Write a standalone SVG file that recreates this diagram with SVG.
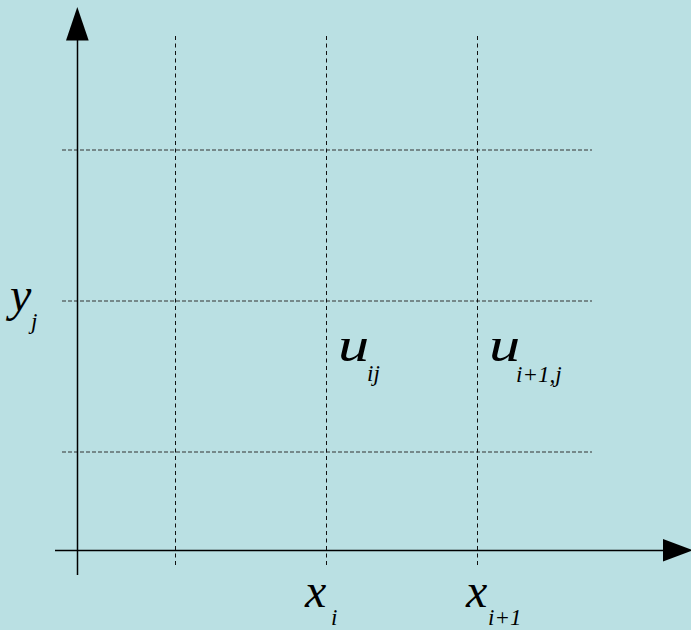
<svg xmlns="http://www.w3.org/2000/svg" width="691" height="630" viewBox="0 0 691 630">
  <style>
    .axis { stroke: #000; stroke-width: 1.5; fill: none; }
    .head { fill: #000; stroke: none; }
    .gridh { stroke: #333; stroke-width: 1; stroke-dasharray: 4 2; fill: none; }
    .gridv { stroke: #111; stroke-width: 1; stroke-dasharray: 4 3.5; fill: none; }
    text { font-family: 'Liberation Serif', 'Times New Roman', serif; font-style: italic; fill: #000; }
    .big { font-size: 48px; }
    .sub { font-size: 23px; }
  </style>
  <rect x="0" y="0" width="691" height="630" fill="#bae0e3"/>
  <g id="grid">
    <line class="gridh" x1="62" y1="150" x2="592" y2="150"/>
    <line class="gridh" x1="62" y1="301" x2="592" y2="301"/>
    <line class="gridh" x1="62" y1="452" x2="592" y2="452"/>
    <line class="gridv" x1="175.5" y1="36" x2="175.5" y2="565"/>
    <line class="gridv" x1="326.5" y1="36" x2="326.5" y2="565"/>
    <line class="gridv" x1="477.5" y1="36" x2="477.5" y2="565"/>
  </g>
  <g id="axes">
    <line class="axis" x1="77.5" y1="38" x2="77.5" y2="575"/>
    <polygon class="head" points="77.3,7 66,40.5 88.7,40.5"/>
    <line class="axis" x1="55" y1="550.5" x2="665" y2="550.5"/>
    <polygon class="head" points="663,539 663,561.5 693,550.3"/>
  </g>
  <g id="label-y">
    <text class="big" x="10" y="311">y</text>
    <text class="sub" x="31" y="329">j</text>
  </g>
  <g id="label-uij">
    <text class="big" transform="translate(338,361) scale(1.3,1)">u</text>
    <text class="sub" x="367" y="381">ij</text>
  </g>
  <g id="label-ui1j">
    <text class="big" transform="translate(489,361) scale(1.3,1)">u</text>
    <text class="sub" x="516" y="382">i+1,j</text>
  </g>
  <g id="label-xi">
    <text class="big" x="305" y="607">x</text>
    <text class="sub" x="331" y="625">i</text>
  </g>
  <g id="label-xi1">
    <text class="big" x="466" y="607">x</text>
    <text class="sub" x="488" y="625">i+1</text>
  </g>
</svg>
